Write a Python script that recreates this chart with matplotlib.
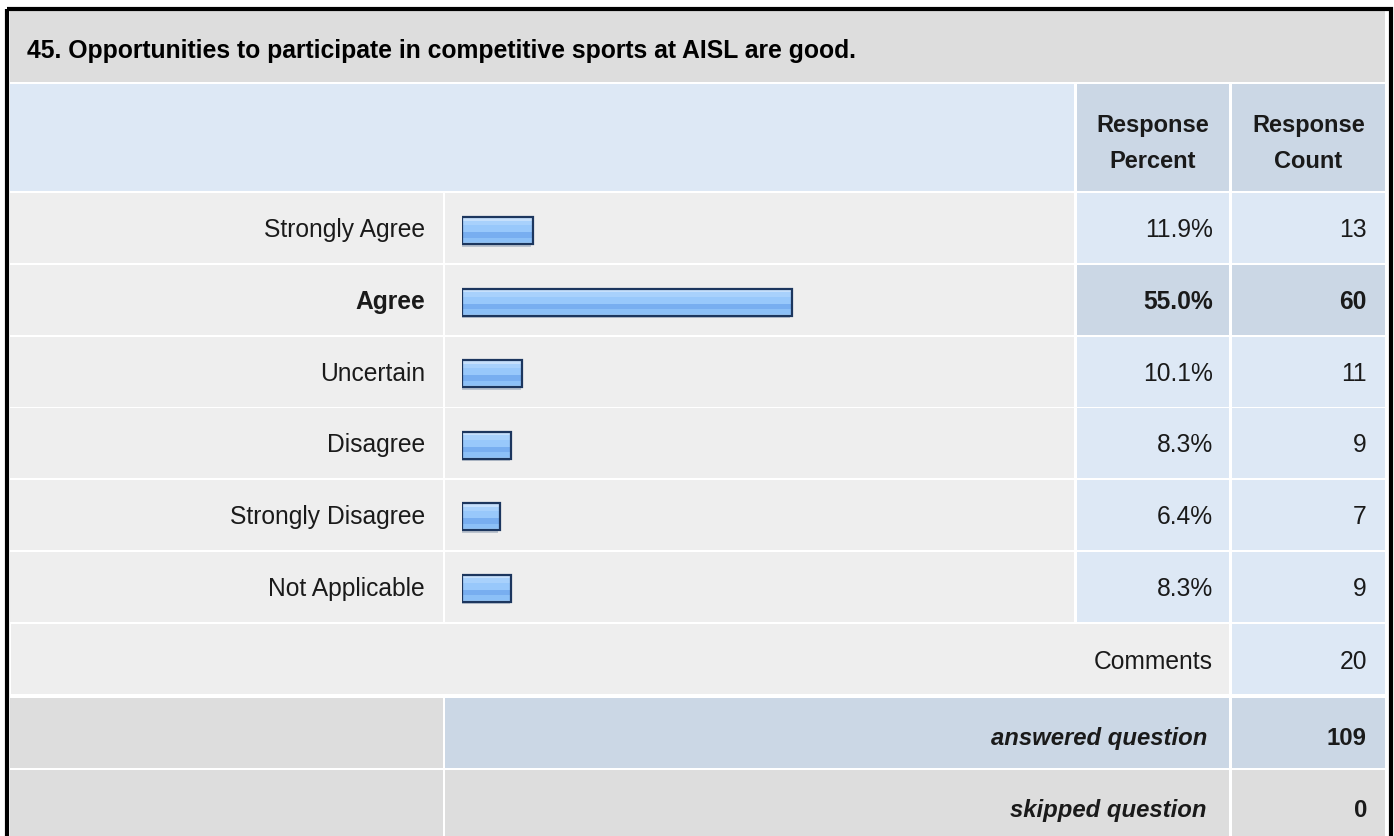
import matplotlib.pyplot as plt
from matplotlib.patches import Rectangle
import numpy as np

plt.rcParams['font.family'] = ['Liberation Sans', 'DejaVu Sans']

## Data ---------------------------------------------

title = "45. Opportunities to participate in competitive sports at AISL are good."
labels = ["Strongly Agree", "Agree", "Uncertain", "Disagree", "Strongly Disagree", "Not Applicable"]
percents = [11.9, 55.0, 10.1, 8.3, 6.4, 8.3]
counts = [13, 60, 11, 9, 7, 9]
comments_count = 20
answered = 109
skipped = 0

## Layout (pixels) ----------------------------------

W, H = 1394, 837
col_label = (10, 443)
col_bar = (445, 1074)
col_pct = (1077, 1229)
col_cnt = (1232, 1385)
row_tops = [194, 266, 338, 409, 481, 553, 625, 699, 771]
row_h = 69.5

GREY = "#dddddd"
LIGHT = "#eeeeee"
BLUE = "#dde8f5"
BLUE_DARK = "#cbd7e5"
TEXT = "#1a1a1a"

fig = plt.figure(figsize=(W / 100, H / 100), dpi=100)
ax = fig.add_axes([0, 0, 1, 1])
ax.set_xlim(0, W)
ax.set_ylim(H, 0)
ax.axis("off")


def cell(x0, x1, y0, h, color):
    ax.add_patch(Rectangle((x0, y0), x1 - x0, h, facecolor=color, edgecolor="none"))


# title + header
cell(10, 1385, 12, 71, GREY)
ax.text(27, 58, title, fontsize=17.8, fontweight="bold", color="black", va="baseline")
cell(10, 1074, 85, 107, BLUE)
cell(*col_pct, 85, 107, BLUE_DARK)
cell(*col_cnt, 85, 107, BLUE_DARK)
for (x0, x1), word in [(col_pct, "Percent"), (col_cnt, "Count")]:
    xc = (x0 + x1) / 2
    ax.text(xc, 132, "Response", fontsize=17, fontweight="bold", ha="center", va="baseline", color=TEXT)
    ax.text(xc, 168, word, fontsize=17, fontweight="bold", ha="center", va="baseline", color=TEXT)

# answer rows
top_idx = int(np.argmax(counts))
for i, (lab, p, c) in enumerate(zip(labels, percents, counts)):
    y0 = row_tops[i]
    hi = i == top_idx
    cell(*col_label, y0, row_h, LIGHT)
    cell(*col_bar, y0, row_h, LIGHT)
    cell(*col_pct, y0, row_h, BLUE_DARK if hi else BLUE)
    cell(*col_cnt, y0, row_h, BLUE_DARK if hi else BLUE)
    fw = "bold" if hi else "normal"
    ax.text(425, y0 + 43, lab, fontsize=17.7, fontweight=fw, ha="right", va="baseline", color=TEXT)
    ax.text(1213, y0 + 43, f"{p:.1f}%", fontsize=17.7, fontweight=fw, ha="right", va="baseline", color=TEXT)
    ax.text(1367, y0 + 43, f"{c}", fontsize=17.7, fontweight=fw, ha="right", va="baseline", color=TEXT)

# comments
y0 = row_tops[6]
cell(11, col_pct[1], y0, row_h, LIGHT)
cell(*col_cnt, y0, row_h, BLUE)
ax.text(1213, y0 + 44, "Comments", fontsize=17.7, ha="right", va="baseline", color=TEXT)
ax.text(1367, y0 + 44, f"{comments_count}", fontsize=17.7, ha="right", va="baseline", color=TEXT)

# answered / skipped
for y0, txt, val, mid in [(row_tops[7], "answered question", answered, BLUE_DARK),
                          (row_tops[8], "skipped question", skipped, GREY)]:
    cell(*col_label, y0, row_h, GREY)
    cell(col_bar[0], col_pct[1], y0, row_h, mid)
    cell(*col_cnt, y0, row_h, mid)
    ax.text(1207, y0 + 46, txt, fontsize=17.2, fontweight="bold", style="italic",
            ha="right", va="baseline", color=TEXT)
    ax.text(1367, y0 + 46, f"{val}", fontsize=17.2, fontweight="bold", ha="right", va="baseline", color=TEXT)

# outer border
ax.add_patch(Rectangle((7, 9.5), 1383.5, 900, facecolor="none", edgecolor="black", linewidth=3.0))

## Bars ---------------------------------------------

bax = fig.add_axes([461.5 / W, 1 - 623 / H, 600 / W, (623 - 194) / H])
bax.set_xlim(0, 100)
bax.set_ylim(5.5, -0.5)
bax.axis("off")

ypos = np.arange(len(percents)) + 0.03
bar_h = 0.38
# soft shadow under each bar
bax.barh(ypos + 0.02, percents, height=bar_h + 0.02, left=-0.25, color="#8a9ab0", alpha=0.5, linewidth=0)
stripes = [(0.00, 0.13, "#c6e0fc"), (0.13, 0.29, "#a8d1fc"), (0.29, 0.55, "#98c8fb"),
           (0.55, 0.75, "#78aef0"), (0.75, 0.91, "#8cc0f7"), (0.91, 1.00, "#9dccfb")]
for f0, f1, col in stripes:
    yc = ypos - bar_h / 2 + bar_h * (f0 + f1) / 2
    bax.barh(yc, percents, height=bar_h * (f1 - f0), left=0, color=col, linewidth=0)
bax.barh(ypos, percents, height=bar_h, left=0, fill=False, edgecolor="#1c365e", linewidth=1.6)

fig.savefig("out.png", dpi=100)
